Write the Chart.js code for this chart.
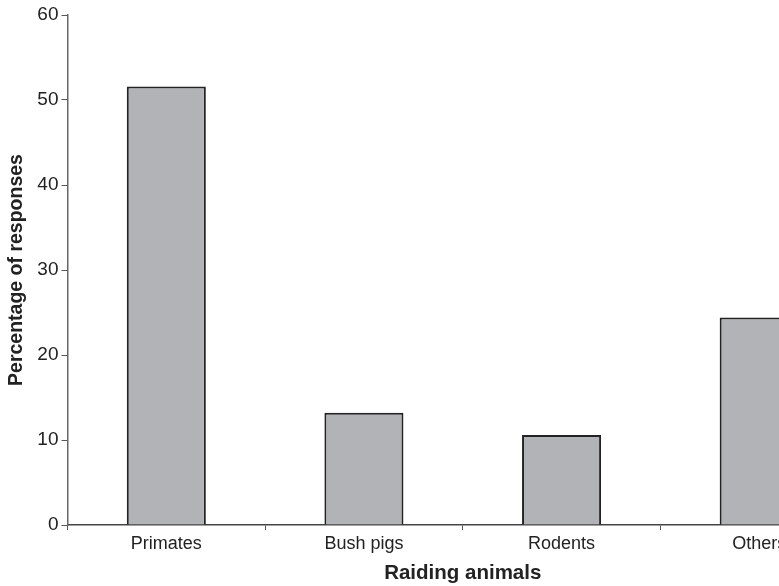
<!DOCTYPE html>
<html>
<head>
    <meta charset="UTF-8">
    <title>Raiding animals</title>
    <script src="https://cdn.jsdelivr.net/npm/chart.js"></script>
    <style>
        html, body { margin: 0; padding: 0; overflow: hidden; background: #fff; }
    </style>
</head>
<body>
    <canvas id="barCanvas" width="860" height="586"></canvas>

    <script>
        const animaux = ["Primates", "Bush pigs", "Rodents", "Others"];
        const pourcentages = [51.6, 13.2, 10.6, 24.4];
        const yTicks = [0, 10, 20, 30, 40, 50, 60];

        const police = "'Liberation Sans', Arial, sans-serif";
        const canvas = document.getElementById("barCanvas");

        const chart = new Chart(canvas, {
            type: "bar",
            data: {
                labels: animaux,
                datasets: [{
                    data: pourcentages,
                    backgroundColor: "#b2b3b7",
                    borderColor: "#222",
                    borderWidth: 2,
                    borderSkipped: "bottom",
                    barPercentage: 0.4,
                    categoryPercentage: 1
                }]
            },
            options: {
                responsive: false,
                animation: false,
                layout: { padding: { top: 15, right: 2, left: 0, bottom: 0 } },
                plugins: { legend: { display: false }, tooltip: { enabled: false } },
                scales: {
                    x: {
                        grid: { drawOnChartArea: false, tickLength: 5, color: "#555", offset: true },
                        border: { color: "#444", width: 1.5 },
                        ticks: { color: "#222", padding: 3, font: { family: police, size: 18 } },
                        title: {
                            display: true,
                            text: "Raiding animals",
                            color: "#222",
                            padding: { top: 0, bottom: 0 },
                            font: { family: police, size: 20.5, weight: "bold" }
                        },
                        afterFit: scale => { scale.height = 61; }
                    },
                    y: {
                        min: 0,
                        max: 60,
                        afterBuildTicks: scale => { scale.ticks = yTicks.map(v => ({ value: v })); },
                        grid: { drawOnChartArea: false, tickLength: 6, color: "#555" },
                        border: { color: "#666", width: 1.5 },
                        ticks: { color: "#222", padding: 3, font: { family: police, size: 19 } },
                        title: {
                            display: true,
                            text: "Percentage of responses",
                            color: "#222",
                            padding: { top: 5, bottom: 0 },
                            font: { family: police, size: 19.5, weight: "bold" }
                        },
                        afterFit: scale => { scale.width = 67.5; }
                    }
                }
            }
        });
    </script>
</body>
</html>
